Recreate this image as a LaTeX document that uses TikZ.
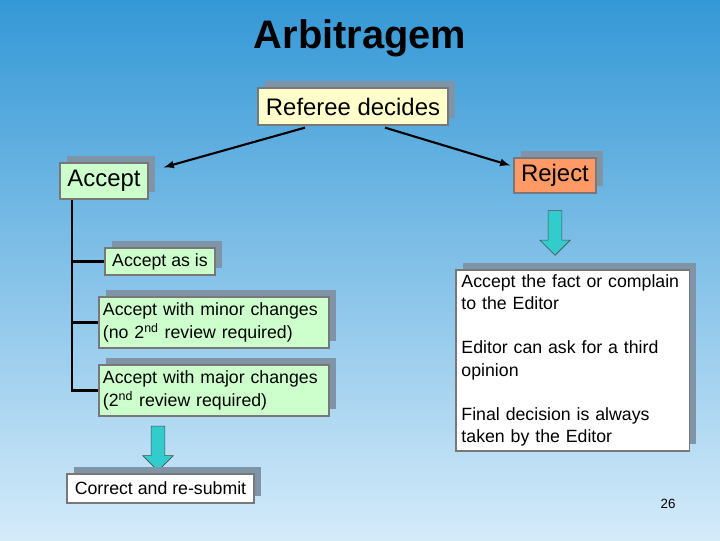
\documentclass[tikz,border=0pt]{standalone}
\usepackage{fontspec}
\setmainfont{Liberation Sans}
\usetikzlibrary{calc,positioning,shapes.arrows,shadows}
\definecolor{bgtop}{RGB}{52,152,214}
\definecolor{bgbot}{RGB}{212,235,250}
\definecolor{shadowgray}{RGB}{128,148,168}
\definecolor{boxline}{RGB}{120,120,120}
\definecolor{refyellow}{RGB}{255,255,204}
\definecolor{accgreen}{RGB}{204,255,204}
\definecolor{rejorange}{RGB}{255,153,102}
\definecolor{downcyan}{RGB}{51,204,204}
\newcommand\nohyph{\hyphenpenalty=10000 \exhyphenpenalty=10000 \relax}

\begin{document}
\begin{tikzpicture}[>=latex, x=0.025cm, y=-0.025cm,
  card/.style={draw=boxline, line width=0.9pt, inner sep=0pt,
    general shadow={shadow xshift=0.17cm, shadow yshift=0.17cm, fill=shadowgray}},
  big/.style={card, font=\fontsize{17}{20}\selectfont},
  small/.style={card, align=left, font=\fontsize{12.6}{15.8}\selectfont\nohyph},
  down/.style={single arrow, draw=black!70, fill=downcyan, rotate=-90,
    minimum height=1.12cm, minimum width=0.75cm, inner xsep=0pt, inner ysep=0.165cm,
    single arrow head extend=0.21cm}]
% background and page size
\shade[top color=bgtop, bottom color=bgbot] (0,0) rectangle (720,540);
\useasboundingbox (0,0) rectangle (720,540);
% title
\node (title) at (360,38) {\fontsize{28.3}{32}\selectfont\bfseries Arbitragem};
% the decision and its two outcomes
\node [big, fill=refyellow, minimum width=4.75cm, minimum height=0.925cm] (ref) at (353,106.5) {Referee decides};
\node [big, fill=accgreen, minimum width=2.2cm, minimum height=0.9cm] (acc) at (104,181) {Accept};
\node [big, fill=rejorange, minimum width=2.05cm, minimum height=0.875cm] (rej) at (555,175.5) {Reject};
\draw [->, line width=1.5pt] ($(ref.south)+(-48,2)$) -- ($(acc.north east)+(15,5)$);
\draw [->, line width=1.5pt] ($(ref.south)+(32,2)$) -- ($(rej.west)+(-3,-10)$);
% kinds of acceptance
\node [small, fill=accgreen, minimum width=2.75cm, minimum height=0.675cm] (asis) at (160,261.5) {Accept as is};
\node [small, fill=accgreen, text width=5.55cm, inner xsep=0.1cm, minimum height=1.275cm] (minor) at (214,322.5)
  {Accept with minor changes\\(no 2\textsuperscript{nd} review required)};
\node [small, fill=accgreen, text width=5.55cm, inner xsep=0.1cm, minimum height=1.275cm] (major) at (214,390.5)
  {Accept with major changes\\(2\textsuperscript{nd} review required)};
\coordinate (trunk) at (72,200);
\foreach \n in {asis,minor,major}
  \draw [line width=1.5pt] (trunk) |- (\n.west);
% re-submission
\node [down] (majarrow) at (158,445) {};
\node [small, fill=white, minimum width=4.675cm, minimum height=0.725cm] (resub) at (160.5,488.5) {Correct and re-submit};
% after a rejection
\node [down] (rejarrow) at (555,229.5) {};
\node [small, fill=white, text width=5.55cm, inner xsep=0.14cm, minimum height=4.525cm] (after) at (572.5,360.5)
  {Accept the fact or complain\\to the Editor\\[15.8pt]Editor can ask for a third\\opinion\\[15.8pt]Final decision is always\\taken by the Editor};
% slide number
\node (page) at (668,504) {\fontsize{9.5}{11}\selectfont 26};
\end{tikzpicture}
\end{document}
